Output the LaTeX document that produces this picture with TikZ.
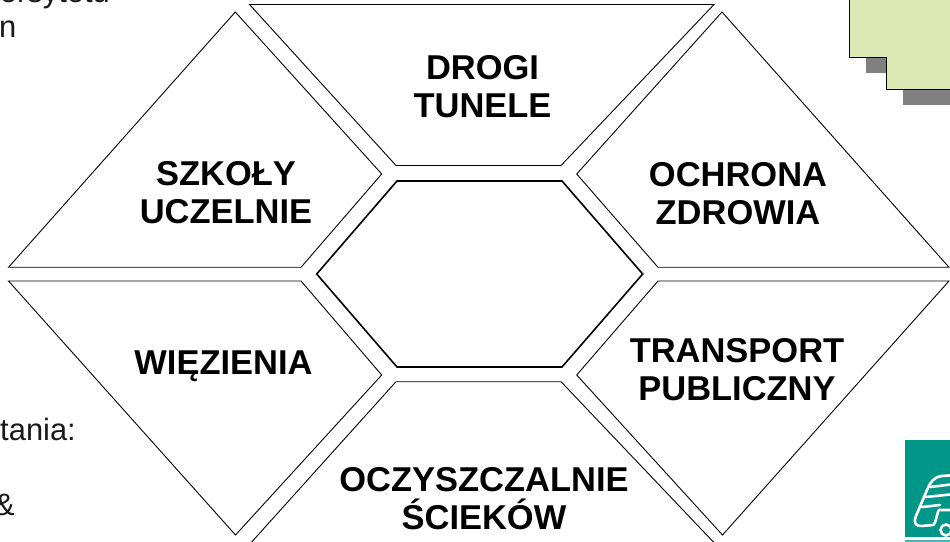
\documentclass[tikz,border=0pt]{standalone}
\usepackage{fontspec}
\setmainfont{Liberation Sans}
\definecolor{boxgreen}{HTML}{DCE9B5}
\definecolor{shadowgray}{HTML}{808080}
\definecolor{logoteal}{HTML}{009688}
\tikzset{
  cell/.style={draw=black,line width=0.9pt,line join=miter},
  hexcell/.style={draw=black,line width=1.6pt,line join=miter},
  lbl/.style={align=center,font=\fontsize{34.6}{38.5}\selectfont\bfseries,inner sep=0pt},
  body/.style={anchor=base west,font=\fontsize{31}{31}\selectfont,inner sep=0pt,text=black!90},
  carline/.style={draw=white,line width=2.6pt,line cap=round,line join=round}
}
\begin{document}
\begin{tikzpicture}[x=1bp,y=-1bp]
\useasboundingbox (0,0) rectangle (950,542);
\clip (0,0) rectangle (950,542);
% top-left and lower-left text fragments
\node[body,anchor=base east] (t1) at (110,3) {ersytetu};
\node[body] (t2) at (-1,38) {n};
\node[body,anchor=base east] (t3) at (76,440) {tania:};
\node[body,anchor=base east] (t4) at (15,515) {\&};
% six outer cells
\draw[cell] (249.5,4.5) -- (714,4.5) -- (561,165.5) -- (396,165.5) -- cycle;
\draw[cell] (235.3,12) -- (381.7,174) -- (301,267.3) -- (8.5,267.3) -- cycle;
\draw[cell] (722,12) -- (576.7,174) -- (658,267.3) -- (949,267.3) -- cycle;
\draw[cell] (8.5,281) -- (301,281) -- (381.7,375) -- (235.5,535) -- cycle;
\draw[cell] (949,281) -- (658,281) -- (576.7,375) -- (722.5,535) -- cycle;
\draw[cell] (396,381.7) -- (561,381.7) -- (721,550) -- (244.5,550) -- cycle;
% centre hexagon
\draw[hexcell] (316.7,274) -- (397,181) -- (562,181) -- (642.7,274) -- (562,367) -- (397,367) -- cycle;
% labels
\node[lbl] (a) at (482.5,86.5) {DROGI\\TUNELE};
\node[lbl] (b) at (226,192.5) {SZKOŁY\\UCZELNIE};
\node[lbl] (c) at (738,193.5) {OCHRONA\\ZDROWIA};
\node[lbl] (d) at (223.5,366) {WIĘZIENIA};
\node[lbl] (e) at (737,369.5) {TRANSPORT\\PUBLICZNY};
\node[lbl] (f) at (484,498.5) {OCZYSZCZALNIE\\ŚCIEKÓW};
% green box with shadow
\fill[shadowgray] (866,50) rectangle (890,73);
\fill[shadowgray] (903,80) rectangle (950,105);
\draw[fill=boxgreen,draw=black,line width=1.5pt] (849.5,-5) -- (849.5,57.5) -- (886.5,57.5) -- (886.5,89.3) -- (955,89.3) -- (955,-5) -- cycle;
% logo
\fill[logoteal] (905,440) rectangle (950,537);
\fill[logoteal!70] (905,540) rectangle (950,542);
\draw[carline] (955,475) -- (942,476) .. controls (933,477) and (930,483) .. (927,490) -- (916,516) .. controls (913,524) and (916,526) .. (922,526) -- (933,525) .. controls (936,524) and (937,512) .. (939,510) -- (955,510);
\draw[carline] (930,487) -- (955,484);
\draw[carline] (926,497) -- (955,494);
\draw[carline] (922,507) -- (940,505);
\draw[draw=white,line width=2.6pt] (946,530) circle (5.5);
\end{tikzpicture}
\end{document}
